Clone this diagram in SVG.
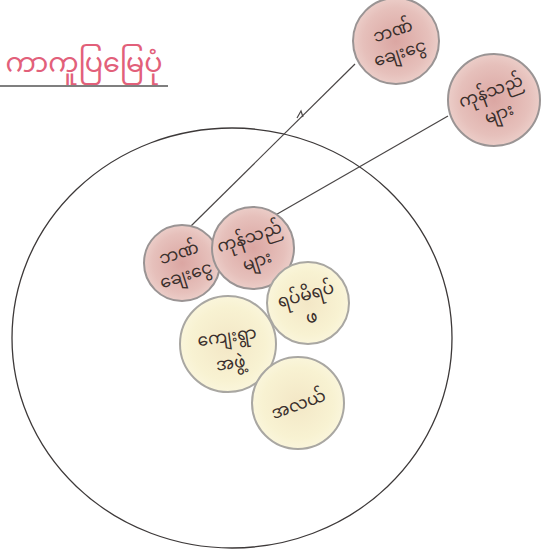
<svg xmlns="http://www.w3.org/2000/svg" width="541" height="552" viewBox="0 0 541 552">
<defs>
<radialGradient id="pink" cx="50%" cy="50%" r="55%">
<stop offset="0" stop-color="#dba6a2"/>
<stop offset="0.7" stop-color="#e6c0bb"/>
<stop offset="1" stop-color="#eed3ce"/>
</radialGradient>
<radialGradient id="yellow" cx="50%" cy="50%" r="55%">
<stop offset="0" stop-color="#f3e7c6"/>
<stop offset="0.7" stop-color="#f8f2d2"/>
<stop offset="1" stop-color="#fbf7df"/>
</radialGradient>
<style>
.pk{fill:url(#pink);stroke:#9a9494;stroke-width:2}
.yl{fill:url(#yellow);stroke:#a9a7a2;stroke-width:2}
.t{font-family:"Noto Sans Myanmar","Padauk","Myanmar Text","Noto Sans","DejaVu Sans",sans-serif;font-size:17px;fill:#3a2f2c;text-anchor:middle}
.ln{stroke:#4a4646;stroke-width:1.2;fill:none}
</style>
</defs>
<rect width="541" height="552" fill="#ffffff"/>
<g id="title">
<text x="84" y="72" style="font-family:'Noto Sans Myanmar','Padauk','Myanmar Text','Noto Sans',sans-serif;font-size:27px;fill:#e2607a" text-anchor="middle">ကာကူပြမြေပုံ</text>
<line x1="0" y1="86" x2="168" y2="86" stroke="#555" stroke-width="1.5"/>
</g>
<g id="boundary">
<ellipse cx="232" cy="338" rx="220" ry="210" fill="none" stroke="#3d3939" stroke-width="1.3"/>
</g>
<g id="connectors">
<line class="ln" x1="191" y1="226" x2="355" y2="64"/>
<path class="ln" d="M297 118 L301 111 L303 117"/>
<line class="ln" x1="272" y1="217" x2="448" y2="116" stroke-width="1.6"/>
</g>
<g id="bank-outer">
<circle class="pk" cx="396" cy="41" r="43"/>
<text class="t" transform="rotate(-18 396 41)"><tspan x="396" y="36">ဘဏ်</tspan><tspan x="396" y="59">ချေးငွေ</tspan></text>
</g>
<g id="traders-outer">
<circle class="pk" cx="494" cy="100" r="46"/>
<text class="t" transform="rotate(-20 494 100)"><tspan x="494" y="96">ကုန်သည်</tspan><tspan x="494" y="120">များ</tspan></text>
</g>
<g id="bank-inner">
<circle class="pk" cx="182" cy="263" r="38"/>
<text class="t" transform="rotate(-18 182 263)"><tspan x="182" y="258">ဘဏ်</tspan><tspan x="182" y="281">ချေးငွေ</tspan></text>
</g>
<g id="traders-inner">
<circle class="pk" cx="253" cy="248" r="41"/>
<text class="t" transform="rotate(-18 253 248)"><tspan x="253" y="242">ကုန်သည်</tspan><tspan x="253" y="267">များ</tspan></text>
</g>
<g id="elders">
<circle class="yl" cx="308" cy="303" r="41"/>
<text class="t" transform="rotate(-15 308 303)"><tspan x="308" y="300">ရပ်မိရပ်</tspan><tspan x="308" y="323">ဖ</tspan></text>
</g>
<g id="village-group">
<circle class="yl" cx="228" cy="344" r="48"/>
<text class="t" transform="rotate(-8 228 344)"><tspan x="228" y="342">ကျေးရွာ</tspan><tspan x="228" y="369">အဖွဲ့</tspan></text>
</g>
<g id="middle">
<circle class="yl" cx="298" cy="403" r="46"/>
<text class="t" transform="rotate(-20 298 403)"><tspan x="298" y="410">အလယ်</tspan></text>
</g>
</svg>
